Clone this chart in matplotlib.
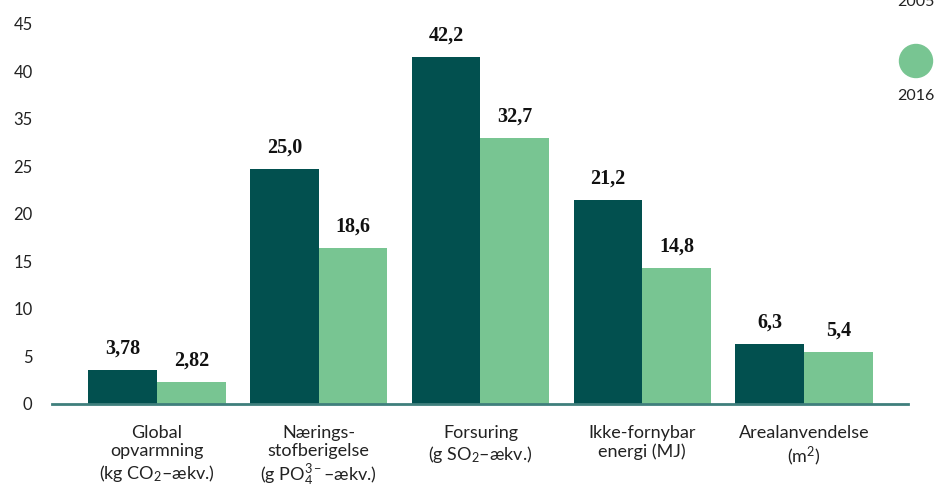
import numpy as np
import matplotlib.pyplot as plt
from matplotlib.patches import Circle

# Data
categories = ["Global\nopvarmning\n(kg CO$_2$–ækv.)",
              "Nærings-\nstofberigelse\n(g PO$_4^{3-}$–ækv.)",
              "Forsuring\n(g SO$_2$–ækv.)",
              "Ikke-fornybar\nenergi (MJ)",
              "Arealanvendelse\n(m$^2$)"]
# bar lengths as drawn on the (oddly labelled) value axis
heights_2005 = [3.58, 24.7, 36.5, 21.45, 6.3]
heights_2016 = [2.3, 16.4, 28.0, 14.3, 5.47]
# printed values above the bars
labels_2005 = ["3,78", "25,0", "42,2", "21,2", "6,3"]
labels_2016 = ["2,82", "18,6", "32,7", "14,8", "5,4"]
ytick_pos = [0, 5, 10, 15, 20, 25, 30, 35, 40]
ytick_labels = ["0", "5", "10", "15", "20", "25", "35", "40", "45"]
series = ["2005", "2016"]

DARK = "#02504f"
LIGHT = "#78c592"
AXIS = "#3f7f7c"

plt.rcParams['font.family'] = ['Lato', 'DejaVu Sans']
plt.rcParams['mathtext.fontset'] = 'custom'
plt.rcParams['mathtext.rm'] = 'Lato'
plt.rcParams['mathtext.it'] = 'Lato:italic'
plt.rcParams['mathtext.bf'] = 'Lato:bold'

fig = plt.figure(figsize=(9.35, 4.84), dpi=100)
ax = fig.add_axes([0.0556, 0.1653, 0.9155, 0.7862])

x = np.arange(len(categories))
w = 0.424
b1 = ax.bar(x - w / 2, heights_2005, w, color=DARK, zorder=2)
b2 = ax.bar(x + w / 2, heights_2016, w, color=LIGHT, zorder=2)

for bars, labs in ((b1, labels_2005), (b2, labels_2016)):
    for rect, lab in zip(bars, labs):
        ax.annotate(lab, (rect.get_x() + rect.get_width() / 2, rect.get_height()),
                    xytext=(0, 8), textcoords="offset points",
                    ha="center", va="bottom", fontsize=14.5, fontweight="bold",
                    family=["Liberation Serif", "DejaVu Serif"], color="#111111")

ax.set_xlim(-0.649, 4.643)
ax.set_ylim(0, 40)
ax.set_yticks(ytick_pos)
ax.set_yticklabels(ytick_labels, fontsize=12, color="#222222")
ax.set_xticks(x)
ax.set_xticklabels(categories, fontsize=13, color="#222222", linespacing=1.2)
ax.tick_params(axis="y", length=0, pad=14)
ax.tick_params(axis="x", length=0, pad=15)
for s in ["top", "right", "left"]:
    ax.spines[s].set_visible(False)
ax.spines["bottom"].set_color(AXIS)
ax.spines["bottom"].set_linewidth(2)
ax.spines["bottom"].set_zorder(3)

# legend at the right edge, drawn in pixel units
leg = fig.add_axes([0, 0, 1, 1], zorder=5)
leg.set_xlim(0, 935)
leg.set_ylim(484, 0)
leg.axis("off")
for name, col, cy, ty in ((series[0], DARK, -33, 2), (series[1], LIGHT, 61, 96)):
    leg.add_patch(Circle((916, cy), 16.5, color=col))
    leg.text(916, ty, name, ha="center", va="center", fontsize=11.5, color="#222222")

fig.savefig("out.png", dpi=100)
